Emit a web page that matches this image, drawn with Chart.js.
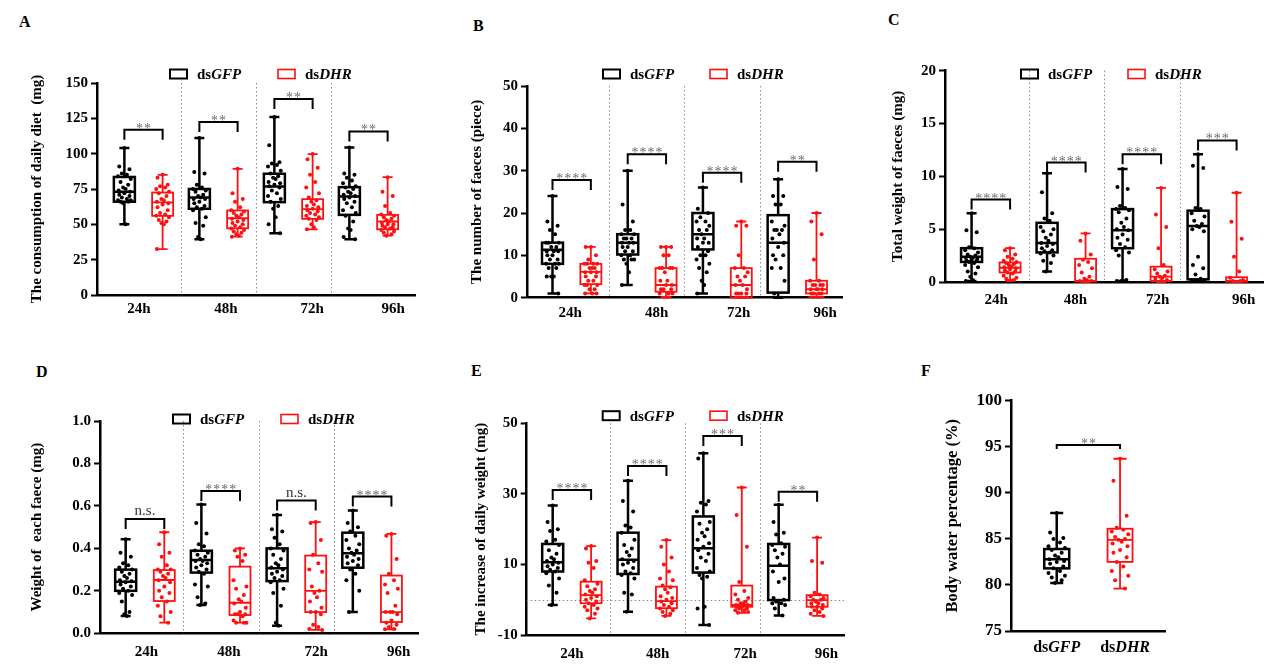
<!DOCTYPE html>
<html><head><meta charset="utf-8">
<script src="https://cdn.jsdelivr.net/npm/chart.js@4.4.1/dist/chart.umd.min.js"></script>
<style>
html,body{margin:0;padding:0;background:#fff;width:1280px;height:670px;overflow:hidden;position:relative}
.lbl{position:absolute;font:bold 16px 'Liberation Serif','Times New Roman',serif;color:#000;line-height:18px}
</style></head><body>
<div class="lbl" style="left:19px;top:13px">A</div>
<div class="lbl" style="left:473px;top:17px">B</div>
<div class="lbl" style="left:888px;top:11px">C</div>
<div class="lbl" style="left:36px;top:363px">D</div>
<div class="lbl" style="left:471px;top:362px">E</div>
<div class="lbl" style="left:921px;top:362px">F</div>
<script>
// ---------------- DATA ----------------
const timeLabels = ['24h', '48h', '72h', '96h'];
const seriesLabels = ['dsGFP', 'dsDHR'];

// A: consumption of daily diet (mg) — box stats [min, q1, median, q3, max]
const dietGfpBox = [[50, 66, 73, 83.5, 104], [39.5, 61, 69, 75, 111], [43.7, 65.7, 76.8, 85.8, 126], [39.5, 56.7, 69.7, 76.3, 104.4]];
const dietDhrBox = [[32.5, 56, 65.5, 72.5, 85], [41.3, 47.2, 54.3, 59.8, 89.3], [46.5, 53.9, 60.7, 67.8, 99.7], [42, 46.5, 52, 56.7, 83.4]];
const dietGfpDots = [
  [104, 91, 89, 86, 85, 84, 82, 80, 78, 76, 75, 74, 73, 72, 71, 70, 69, 68, 67, 67, 66, 66, 65, 50],
  [111, 87, 86, 78, 76, 75, 74, 73, 71, 70, 69, 68, 68, 66, 65, 63, 62, 61, 60, 55, 51, 49, 41, 39.5],
  [126, 106, 94, 93, 92, 91, 88, 86, 84, 83, 82, 80, 79, 78, 77, 76, 74, 72, 70, 68, 66, 63, 61, 55, 50, 43.7],
  [104.4, 86, 85, 83, 81, 79, 77, 76, 75, 73, 72, 71, 70, 69, 68, 66, 65, 62, 60, 58, 56, 52, 47, 46, 41, 39.5]];
const dietDhrDots = [
  [85, 83, 78, 77, 76, 75, 73, 72, 70, 68, 67, 66, 65, 64, 62, 60, 58, 57, 56, 55, 53, 52, 51, 50, 32.5],
  [89.3, 72, 68, 66, 62, 60, 59, 58, 57, 56, 55, 54, 53, 52, 51, 50, 49, 48, 47, 46, 45, 44, 43, 42, 41.3],
  [99.7, 96, 90, 85, 80, 76, 72, 69, 67, 66, 64, 63, 62, 61, 60, 59, 58, 57, 56, 55, 54, 53, 50, 48, 46.5],
  [83.4, 73, 70, 63, 58, 57, 56, 55, 54, 53, 52, 51, 50, 50, 49, 48, 48, 47, 46, 45, 44, 43, 42]];
const dietBracket = [117, 122.4, 138.7, 115.7];
const dietSig = ['**', '**', '**', '**'];

// B: number of faeces (piece)
const countGfpBox = [[1, 8, 11.3, 13, 24], [3, 10.2, 13, 15, 30], [1, 11.4, 15, 20, 26], [0, 1.2, 13, 19.5, 28]];
const countDhrBox = [[1, 3.2, 6.1, 8, 12], [0, 1.4, 3, 7, 12], [0, 0, 3, 7, 18], [0, 1, 2, 4, 20]];
const countGfpDots = [
  [24, 18, 17, 16, 15, 13, 13, 13, 12, 12, 11, 11, 11, 10, 10, 9, 9, 8, 8, 8, 7, 7, 5, 5, 5, 1],
  [30, 22, 18, 16, 16, 15, 15, 14, 14, 14, 13, 13, 13, 12, 12, 11, 11, 10, 10, 9, 9, 9, 8, 6, 3],
  [26, 21, 20, 19, 18, 18, 17, 16, 16, 15, 14, 14, 13, 13, 12, 11, 10, 10, 9, 8, 7, 6, 4, 3, 1],
  [28, 24, 24, 22, 22, 18, 17, 16, 16, 16, 15, 14, 13, 12, 10, 10, 9, 7, 7, 4, 1, 0, 0, 0, 0]];
const countDhrDots = [
  [12, 12, 10, 9, 8, 8, 8, 8, 7, 7, 7, 6, 6, 6, 5, 5, 4, 4, 3, 3, 3, 2, 2, 1, 1, 1],
  [12, 12, 12, 10, 10, 7, 7, 7, 7, 6, 4, 4, 3, 3, 2, 2, 2, 1, 1, 1, 0, 0, 0, 0],
  [18, 17, 17, 10, 7, 7, 6, 5, 5, 4, 3, 3, 2, 1, 1, 1, 1, 0, 0, 0, 0, 0, 0, 0],
  [20, 18, 15, 9, 4, 4, 3, 3, 3, 3, 2, 2, 2, 2, 1, 1, 1, 1, 0, 0, 0, 0, 0, 0]];
const countBracket = [27.8, 33.9, 29.5, 32.1];
const countSig = ['****', '****', '****', '**'];

// C: total weight of faeces (mg)
const totalGfpBox = [[0.1, 1.9, 2.4, 3.2, 6.5], [1.0, 2.8, 3.7, 5.6, 10.3], [0.1, 3.2, 4.9, 6.9, 10.7], [0.1, 0.25, 5.3, 6.75, 12.1]];
const totalDhrBox = [[0.1, 0.9, 1.35, 1.85, 3.2], [0, 0.05, 0.1, 2.2, 4.6], [0, 0.1, 0.5, 1.45, 8.9], [0, 0.03, 0.1, 0.45, 8.45]];
const totalGfpDots = [
  [6.5, 4.9, 4.7, 3.3, 3.2, 3.0, 2.8, 2.6, 2.5, 2.4, 2.3, 2.3, 2.2, 2.1, 2.0, 2.0, 1.9, 1.8, 1.6, 1.4, 1.0, 0.8, 0.5, 0.2, 0.1],
  [10.3, 8.5, 6.5, 6.0, 5.8, 5.2, 5.0, 4.8, 4.5, 4.2, 3.9, 3.7, 3.6, 3.4, 3.2, 3.0, 2.9, 2.8, 2.7, 2.5, 2.0, 1.8, 1.0],
  [10.7, 9.0, 8.8, 7.2, 7.0, 6.9, 6.8, 6.6, 6.0, 5.6, 5.2, 5.0, 4.9, 4.5, 4.2, 4.0, 3.6, 3.3, 3.0, 2.8, 2.5, 0.2, 0.1, 0.1, 0.1],
  [12.1, 11.0, 10.8, 7.0, 6.9, 6.5, 6.2, 5.8, 5.5, 5.3, 5.2, 5.0, 4.8, 2.4, 1.6, 1.3, 0.7, 0.3, 0.2, 0.1, 0.1, 0.1, 0.1]];
const totalDhrDots = [
  [3.2, 3.0, 2.6, 2.4, 2.2, 2.0, 1.9, 1.8, 1.7, 1.6, 1.5, 1.4, 1.3, 1.2, 1.1, 1.0, 0.9, 0.8, 0.6, 0.4, 0.3, 0.2, 0.1, 0.1],
  [4.6, 3.9, 2.6, 2.1, 1.9, 1.6, 1.3, 0.9, 0.5, 0.3, 0.2, 0.1, 0.1, 0, 0, 0, 0, 0, 0, 0],
  [8.9, 6.4, 5.2, 3.2, 1.6, 1.2, 1.0, 0.8, 0.6, 0.5, 0.4, 0.3, 0.2, 0.1, 0, 0, 0, 0, 0, 0],
  [8.45, 5.7, 4.1, 2.4, 1.0, 0.4, 0.2, 0.1, 0.1, 0, 0, 0, 0, 0, 0, 0, 0]];
const totalBracket = [7.8, 11.3, 12.1, 13.4];
const totalSig = ['****', '****', '****', '***'];

// D: weight of each faece (mg)
const eachGfpBox = [[0.082, 0.20, 0.243, 0.30, 0.443], [0.133, 0.286, 0.345, 0.389, 0.607], [0.035, 0.246, 0.306, 0.40, 0.557], [0.10, 0.309, 0.377, 0.474, 0.578]];
const eachDhrBox = [[0.05, 0.152, 0.251, 0.298, 0.476], [0.05, 0.086, 0.144, 0.314, 0.40], [0.016, 0.10, 0.20, 0.366, 0.524], [0.019, 0.053, 0.10, 0.272, 0.468]];
const eachGfpDots = [
  [0.443, 0.38, 0.36, 0.33, 0.32, 0.31, 0.30, 0.29, 0.28, 0.27, 0.26, 0.25, 0.245, 0.24, 0.23, 0.22, 0.21, 0.20, 0.19, 0.18, 0.15, 0.10, 0.09, 0.082],
  [0.607, 0.52, 0.47, 0.42, 0.41, 0.39, 0.38, 0.37, 0.36, 0.35, 0.34, 0.34, 0.33, 0.32, 0.31, 0.30, 0.29, 0.28, 0.23, 0.22, 0.17, 0.14, 0.133],
  [0.557, 0.49, 0.48, 0.45, 0.42, 0.40, 0.39, 0.37, 0.35, 0.33, 0.32, 0.31, 0.30, 0.29, 0.28, 0.27, 0.26, 0.25, 0.24, 0.21, 0.19, 0.13, 0.05, 0.035],
  [0.578, 0.52, 0.50, 0.48, 0.46, 0.44, 0.42, 0.40, 0.39, 0.38, 0.37, 0.36, 0.35, 0.34, 0.33, 0.32, 0.30, 0.28, 0.25, 0.20, 0.10]];
const eachDhrDots = [
  [0.476, 0.42, 0.38, 0.36, 0.32, 0.30, 0.30, 0.29, 0.28, 0.27, 0.26, 0.25, 0.24, 0.22, 0.20, 0.19, 0.17, 0.15, 0.13, 0.10, 0.08, 0.05],
  [0.40, 0.39, 0.37, 0.36, 0.34, 0.25, 0.22, 0.21, 0.18, 0.16, 0.15, 0.14, 0.12, 0.10, 0.09, 0.09, 0.09, 0.08, 0.06, 0.05, 0.05, 0.05],
  [0.524, 0.52, 0.44, 0.37, 0.33, 0.30, 0.29, 0.22, 0.20, 0.19, 0.17, 0.15, 0.12, 0.10, 0.10, 0.09, 0.04, 0.03, 0.02, 0.016],
  [0.468, 0.46, 0.35, 0.28, 0.25, 0.23, 0.21, 0.19, 0.13, 0.10, 0.10, 0.10, 0.09, 0.06, 0.05, 0.04, 0.03, 0.02, 0.019]];
const eachBracket = [0.538, 0.67, 0.625, 0.644];
const eachSig = ['n.s.', '****', 'n.s.', '****'];

// E: increase of daily weight (mg)
const gainGfpBox = [[-1.5, 8.0, 10.6, 15.8, 26.7], [-3.4, 7.3, 11.3, 19.0, 33.7], [-7.2, 7.7, 14.6, 23.6, 41.5], [-4.5, -0.1, 9.6, 15.8, 26.9]];
const gainDhrBox = [[-5.3, -1.0, 1.3, 5.1, 15.2], [-4.6, -2.4, -0.4, 3.7, 16.9], [-3.7, -2.0, -1.5, 4.0, 31.8], [-4.6, -2.0, -0.1, 1.3, 17.6]];
const gainGfpDots = [
  [26.7, 22, 20, 19.5, 17, 16.5, 15.5, 14, 13, 12, 11.5, 11, 10.5, 10, 9.5, 9, 8.5, 8, 7.5, 6, 4, 2, -1.5],
  [33.7, 28, 25, 21, 20.5, 19, 17, 15.5, 14.5, 13.5, 12.5, 11.5, 11, 10.5, 10, 9, 8, 7.5, 7, 6, 2, 1.5, -3.4],
  [41.5, 40, 28, 27.5, 27, 25, 22, 21.5, 20, 19, 18, 17, 16, 15, 14, 13, 12, 11, 9, 8, 7, 6.5, 6, -2, -2.5, -7.2],
  [26.9, 22, 19, 18.5, 16, 15.5, 15, 14, 13, 12, 10, 8, 6, 5, 0.5, 0, -0.5, -1, -1, -1.5, -2.5, -4.5]];
const gainDhrDots = [
  [15.2, 14.5, 11, 10.5, 9, 5.5, 4.5, 3.8, 3, 2.5, 2, 1.5, 1, 0.5, 0, -0.5, -1, -1.5, -2, -2.5, -3, -4, -5.3],
  [16.9, 15, 12, 10, 8, 6, 5.5, 4, 3.5, 3, 2, 1, 0.5, 0, -0.5, -1, -1.5, -2, -2.5, -3, -3.5, -4, -4.6],
  [31.8, 24, 15, 5, 2.5, 1.5, 0.5, 0, -0.5, -1, -1, -1.5, -1.5, -2, -2, -2.5, -2.5, -3, -3, -3.5, -3.7],
  [17.6, 11, 10.5, 2, 1.5, 1, 0.5, 0, 0, -0.5, -1, -1, -1.5, -2, -2, -2.5, -3, -3.5, -4, -4.6]];
const gainBracket = [31.1, 37.9, 46.4, 30.6];
const gainSig = ['****', '****', '***', '**'];

// F: body water percentage (%)
const waterGfpBox = [[80.2, 81.8, 82.8, 83.9, 87.8]];
const waterDhrBox = [[79.6, 82.5, 84.9, 86.1, 93.7]];
const waterGfpDots = [[87.8, 85.7, 85.1, 85.0, 84.6, 84.2, 84.0, 83.8, 83.5, 83.2, 83.0, 82.8, 82.6, 82.5, 82.3, 82.0, 81.8, 81.5, 81.3, 81.0, 80.8, 80.5, 80.2]];
const waterDhrDots = [[93.7, 91.3, 87.5, 86.2, 86.0, 85.8, 85.5, 85.2, 85.0, 84.9, 84.7, 84.5, 84.2, 83.8, 83.5, 83.0, 82.5, 82.0, 81.5, 81.0, 80.5, 79.6]];
const waterBracket = [95.2];
const waterSig = ['**'];

// ---------------- RENDERING ----------------
const SERIF = "'Liberation Serif','Times New Roman',serif";
const JIT = [0, -0.8, 0.8, -0.4, 0.4, -1, 1, -0.6, 0.6, -0.2, 0.2, -0.9, 0.9];
const BLACK = '#000000', RED = '#ff1010';

const boxPlugin = {
  id: 'boxes',
  beforeDatasetsDraw(chart, args, o) {
    const {ctx, chartArea: a, scales: {x, y}} = chart;
    ctx.save();
    ctx.strokeStyle = '#8a8a8a'; ctx.lineWidth = 1; ctx.setLineDash([1.5, 2.5]);
    (o.dividers || []).forEach(v => {
      const px = Math.round(x.getPixelForValue(v)) + 0.5;
      ctx.beginPath(); ctx.moveTo(px, a.top); ctx.lineTo(px, a.bottom); ctx.stroke();
    });
    if (o.refLine !== undefined && o.refLine !== null) {
      const py = Math.round(y.getPixelForValue(o.refLine)) + 0.5;
      ctx.beginPath(); ctx.moveTo(a.left, py); ctx.lineTo(a.right, py); ctx.stroke();
    }
    ctx.setLineDash([]);
    o.series.forEach(s => {
      ctx.strokeStyle = s.color; ctx.lineWidth = s.lw;
      s.boxes.forEach((b, gi) => {
        const cx = x.getPixelForValue(s.pos[gi]);
        const [mn, q1, md, q3, mx] = b.map(v => y.getPixelForValue(v));
        const hw = o.boxHalf, cap = o.capHalf;
        ctx.beginPath();
        ctx.moveTo(cx, mx); ctx.lineTo(cx, q3);
        ctx.moveTo(cx, q1); ctx.lineTo(cx, mn);
        ctx.moveTo(cx - cap, mx); ctx.lineTo(cx + cap, mx);
        ctx.moveTo(cx - cap, mn); ctx.lineTo(cx + cap, mn);
        ctx.moveTo(cx - hw, md); ctx.lineTo(cx + hw, md);
        ctx.stroke();
        ctx.strokeRect(cx - hw, q3, 2 * hw, q1 - q3);
      });
    });
    ctx.restore();
  },
  afterDraw(chart, args, o) {
    const {ctx, scales: {x, y}} = chart;
    ctx.save();
    (o.brackets || []).forEach((b, gi) => {
      const x1 = x.getPixelForValue(o.series[0].pos[gi]);
      const x2 = x.getPixelForValue(o.series[1].pos[gi]);
      const yb = y.getPixelForValue(b.y);
      ctx.strokeStyle = '#000'; ctx.lineWidth = 2;
      ctx.beginPath(); ctx.moveTo(x1, yb + o.leg); ctx.lineTo(x1, yb); ctx.lineTo(x2, yb); ctx.lineTo(x2, yb + o.leg); ctx.stroke();
      const ns = b.label === 'n.s.';
      ctx.fillStyle = ns ? '#333' : '#6a6a6a';
      ctx.font = (ns ? '15px ' : '14px ') + SERIF;
      ctx.letterSpacing = ns ? '0px' : '1px';
      ctx.textAlign = 'center'; ctx.textBaseline = 'alphabetic';
      ctx.fillText(b.label, (x1 + x2) / 2 + (ns ? 0 : 0.5), ns ? yb - 4 : yb + 3);
    });
    ctx.letterSpacing = '0px';
    const drawMixed = (label, xx, yy, size, align) => {
      const pre = label.slice(0, 2), rest = label.slice(2);
      ctx.font = 'bold ' + size + 'px ' + SERIF;
      const w1 = ctx.measureText(pre).width;
      ctx.font = 'italic bold ' + size + 'px ' + SERIF;
      const w2 = ctx.measureText(rest).width;
      let sx = align === 'center' ? xx - (w1 + w2) / 2 : xx;
      ctx.textAlign = 'left';
      ctx.font = 'bold ' + size + 'px ' + SERIF;
      ctx.fillText(pre, sx, yy);
      ctx.font = 'italic bold ' + size + 'px ' + SERIF;
      ctx.fillText(rest, sx + w1, yy);
    };
    if (o.legend) {
      o.legend.x.forEach((lx, i) => {
        const x0 = lx - o.offX, y0 = o.legend.y - o.offY;
        const s = o.series[i];
        ctx.strokeStyle = s.color; ctx.lineWidth = i === 0 ? 2 : 1.6;
        ctx.strokeRect(x0, y0 - 4.5, 17, 9);
        ctx.fillStyle = '#000'; ctx.textBaseline = 'middle';
        drawMixed(seriesLabels[i], x0 + 27, y0 + 1, 15, 'left');
      });
    }
    if (o.xLabels) {
      ctx.fillStyle = '#000'; ctx.textBaseline = 'middle';
      o.xLabels.pos.forEach((p, i) => {
        drawMixed(seriesLabels[i], x.getPixelForValue(p), o.xLabels.y - o.offY, o.xLabels.size, 'center');
      });
    }
    ctx.restore();
  }
};

function buildPanel(p) {
  const cv = document.createElement('canvas');
  cv.width = p.rect.w; cv.height = p.rect.h;
  cv.style.cssText = `position:absolute;left:${p.rect.x}px;top:${p.rect.y}px;width:${p.rect.w}px;height:${p.rect.h}px`;
  document.body.appendChild(cv);
  const padL = 2, padB = 2;
  const yW = p.area.l - p.rect.x - padL;
  const xH = p.rect.y + p.rect.h - p.area.b - padB;
  const tSize = p.titleSize || 15;
  const titlePad = p.titleX - (p.rect.x + padL) - tSize * 1.2 / 2;
  const series = [
    {color: BLACK, lw: 2.5, boxes: p.gfp.boxes, dots: p.gfp.dots, pos: p.groupX.map(g => g - p.shift)},
    {color: RED, lw: 1.8, boxes: p.dhr.boxes, dots: p.dhr.dots, pos: p.groupX.map(g => g + p.shift)}
  ];
  const datasets = series.map(s => ({
    type: 'scatter',
    data: s.dots.flatMap((vals, gi) => vals.map((v, k) => ({x: s.pos[gi] + JIT[k % JIT.length] * p.spread, y: v}))),
    backgroundColor: s.color, borderWidth: 0, pointRadius: 2
  }));
  const xScale = {
    type: 'linear', min: p.xMin, max: p.xMax,
    grid: {display: false, drawTicks: false},
    border: {display: true, color: '#000', width: 2.5},
    afterFit: s => { s.height = xH; }
  };
  if (p.labelPos) {
    xScale.afterBuildTicks = s => { s.ticks = p.labelPos.map(v => ({value: v})); };
    xScale.ticks = {
      callback: (v, i) => timeLabels[i], autoSkip: false, maxRotation: 0,
      font: {family: SERIF, size: 15, weight: 'bold'}, color: '#000', padding: p.labelPad
    };
  } else {
    xScale.ticks = {display: false};
  }
  new Chart(cv, {
    type: 'scatter',
    data: {datasets},
    options: {
      responsive: false, animation: false, events: [],
      layout: {padding: {left: padL, right: p.rect.x + p.rect.w - p.area.r, top: p.area.t - p.rect.y, bottom: padB}},
      plugins: {
        legend: {display: false}, tooltip: {enabled: false},
        boxes: {
          series, offX: p.rect.x, offY: p.rect.y,
          dividers: p.dividers, refLine: p.refLine,
          boxHalf: p.boxHalf, capHalf: p.capHalf, leg: p.leg,
          brackets: p.bracketY.map((v, i) => ({y: v, label: p.sig[i]})),
          legend: p.legend, xLabels: p.xLabels
        }
      },
      scales: {
        x: xScale,
        y: {
          type: 'linear', min: p.yMin, max: p.yMax,
          ticks: {stepSize: p.yStep, padding: 3, color: '#000',
            font: {family: SERIF, size: p.tickSize || 15, weight: 'bold'},
            callback: v => p.decimals ? Number(v).toFixed(p.decimals) : String(Math.round(v))},
          grid: {display: true, drawOnChartArea: false, drawTicks: true, tickLength: 6, tickWidth: 2, tickColor: '#000'},
          border: {display: true, color: '#000', width: 2.5},
          title: {display: true, text: p.title, color: '#000', font: {family: SERIF, size: tSize, weight: 'bold'},
            padding: {top: titlePad, bottom: 0}},
          afterFit: s => { s.width = yW; }
        }
      }
    },
    plugins: [boxPlugin]
  });
}

const common4 = {groupX: [1, 2, 3, 4], shift: 0.255, boxHalf: 10.5, capHalf: 5, leg: 10, spread: 0.085, dividers: [1.5, 2.5, 3.5]};

const panels = [
  Object.assign({}, common4, {
    rect: {x: 0, y: 40, w: 430, h: 290}, area: {l: 97, t: 83, r: 415, b: 295},
    xMin: 0.38, xMax: 4.62, yMin: 0, yMax: 150, yStep: 25,
    title: 'The consumption of daily diet  (mg)', titleX: 37,
    labelPos: [0.94, 2.1, 3.25, 4.33], labelPad: 5, legend: {x: [170, 278], y: 74},
    gfp: {boxes: dietGfpBox, dots: dietGfpDots}, dhr: {boxes: dietDhrBox, dots: dietDhrDots},
    bracketY: dietBracket, sig: dietSig}),
  Object.assign({}, common4, {
    rect: {x: 440, y: 40, w: 420, h: 290}, area: {l: 527, t: 86, r: 842, b: 297.7},
    xMin: 0.406, xMax: 4.594, yMin: 0, yMax: 50, yStep: 10,
    title: 'The number of faeces (piece)', titleX: 477,
    labelPos: [0.98, 2.13, 3.22, 4.37], labelPad: 6, legend: {x: [603, 710], y: 74},
    gfp: {boxes: countGfpBox, dots: countGfpDots}, dhr: {boxes: countDhrBox, dots: countDhrDots},
    bracketY: countBracket, sig: countSig}),
  Object.assign({}, common4, {
    rect: {x: 860, y: 30, w: 420, h: 290}, area: {l: 945, t: 70.7, r: 1263, b: 282},
    xMin: 0.393, xMax: 4.605, yMin: 0, yMax: 20, yStep: 5,
    title: 'Total weight of faeces (mg)', titleX: 898,
    labelPos: [1.07, 2.12, 3.21, 4.35], labelPad: 9, legend: {x: [1021, 1128], y: 74},
    gfp: {boxes: totalGfpBox, dots: totalGfpDots}, dhr: {boxes: totalDhrBox, dots: totalDhrDots},
    bracketY: totalBracket, sig: totalSig}),
  Object.assign({}, common4, {
    rect: {x: 0, y: 380, w: 430, h: 290}, area: {l: 100, t: 421, r: 418, b: 633.3},
    xMin: 0.406, xMax: 4.606, yMin: 0, yMax: 1, yStep: 0.2, decimals: 1,
    title: 'Weight of  each faece (mg)', titleX: 37,
    labelPos: [1.02, 2.11, 3.26, 4.35], labelPad: 10, legend: {x: [173, 281], y: 419},
    gfp: {boxes: eachGfpBox, dots: eachGfpDots}, dhr: {boxes: eachDhrBox, dots: eachDhrDots},
    bracketY: eachBracket, sig: eachSig}),
  Object.assign({}, common4, {
    rect: {x: 440, y: 380, w: 420, h: 290}, area: {l: 526.7, t: 423.3, r: 844, b: 635},
    xMin: 0.40, xMax: 4.612, yMin: -10, yMax: 50, yStep: 20, refLine: 0,
    title: 'The increase of daily weight (mg)', titleX: 480.7,
    labelPos: [1.0, 2.14, 3.3, 4.38], labelPad: 10, legend: {x: [602.7, 710], y: 415.7},
    gfp: {boxes: gainGfpBox, dots: gainGfpDots}, dhr: {boxes: gainDhrBox, dots: gainDhrDots},
    bracketY: gainBracket, sig: gainSig}),
  {
    rect: {x: 900, y: 360, w: 300, h: 310}, area: {l: 1011, t: 400.7, r: 1165, b: 631},
    groupX: [1.5], shift: 0.5, boxHalf: 12.5, capHalf: 6.5, leg: 4, spread: 0.13, dividers: [],
    xMin: 0.278, xMax: 2.71, yMin: 75, yMax: 100, yStep: 5,
    title: 'Body water percentage (%)', titleX: 952.7, titleSize: 16.5, tickSize: 17,
    xLabels: {pos: [1.0, 2.08], y: 648, size: 16},
    gfp: {boxes: waterGfpBox, dots: waterGfpDots}, dhr: {boxes: waterDhrBox, dots: waterDhrDots},
    bracketY: waterBracket, sig: waterSig}
];
panels.forEach(buildPanel);
</script>
</body></html>
